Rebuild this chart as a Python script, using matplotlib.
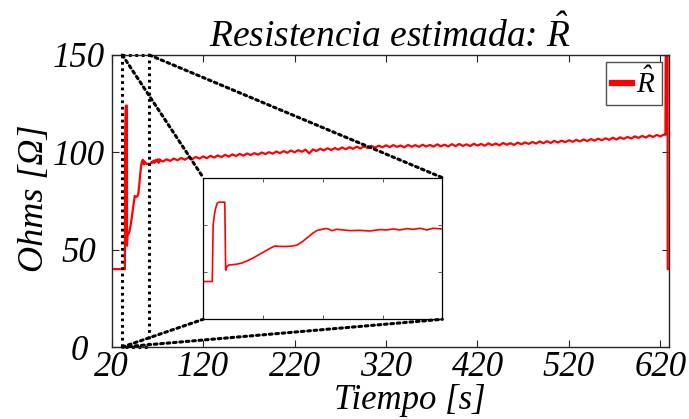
import matplotlib
matplotlib.use("Agg")
import matplotlib.pyplot as plt
from matplotlib.patches import ConnectionPatch
import numpy as np

plt.rcParams['font.family'] = ['Liberation Serif', 'DejaVu Serif']
plt.rcParams['font.style'] = 'italic'
plt.rcParams['mathtext.fontset'] = 'custom'
plt.rcParams['mathtext.it'] = 'Liberation Serif:italic'
plt.rcParams['mathtext.rm'] = 'Liberation Serif'

# arranque: escalon, pico y asentamiento (tiempo irregular)
t_ini = [20, 34.45, 34.6, 34.8, 35.0, 35.3, 35.6, 36.6, 36.75, 37.0, 37.3,
         38.5, 39.5, 40.5, 41.5, 42.5, 43.5, 44.5, 45.2, 46.0, 47.0, 48.0,
         49.0, 50.0, 51.0, 51.8, 52.5, 53.3, 54.0, 54.5, 55.0, 55.8, 57.0,
         58.1, 59.8, 61.5, 63.3, 64.4, 65.6, 66.7, 67.9, 69.0, 70.2, 71.3,
         72.4, 73.9]
r_ini = [40, 40, 100, 110, 117, 123, 124, 124, 52, 56, 57.5,
         58.2, 59.5, 62, 65, 68.5, 72, 75.5, 77.6, 77.2, 77.1, 77.4,
         78.5, 82.5, 87.5, 91.5, 94.2, 95.2, 96.2, 95.5, 93.8, 95.3, 94.6,
         93.9, 94.2, 93.5, 95.0, 94.6, 95.7, 94.6, 96.0, 95.3, 96.4, 94.6,
         96.4, 95.7]

# regimen: muestras cada 4 s desde 76 s hasta 624 s
t_reg = np.arange(76, 625, 4)
r_reg = [95.3, 96.4, 95.6, 96.8, 95.9, 97.1, 96.2, 97.4, 96.5, 97.6,
         96.8, 97.9, 97.0, 98.2, 97.3, 98.4, 97.6, 98.7, 97.8, 98.9,
         98.1, 99.2, 98.3, 99.4, 98.6, 99.6, 98.8, 99.9, 99.1, 100.1,
         99.3, 100.4, 99.6, 100.6, 99.8, 100.9, 100.0, 101.1, 100.3, 101.4,
         99.4, 101.5, 100.7, 101.8, 101.0, 102.1, 101.2, 102.2, 101.4, 102.5,
         101.6, 102.6, 101.8, 102.9, 102.0, 103.1, 102.2, 103.3, 102.4, 103.4,
         102.6, 103.6, 102.7, 103.7, 102.8, 103.5, 102.6, 103.8, 102.9, 103.7,
         102.8, 103.9, 103.0, 103.8, 102.9, 104.1, 103.1, 103.9, 103.0, 104.2,
         103.2, 104.3, 103.3, 104.1, 103.2, 104.4, 103.5, 104.3, 103.4, 104.6,
         103.7, 104.5, 103.6, 104.8, 103.9, 104.7, 103.8, 105.0, 104.1, 105.1,
         104.3, 105.3, 104.5, 105.6, 104.7, 105.7, 104.8, 105.9, 105.0, 106.0,
         105.2, 106.2, 105.4, 106.4, 105.6, 106.6, 105.8, 106.8, 106.0, 107.0,
         106.2, 107.2, 106.4, 107.5, 106.6, 107.7, 106.9, 107.9, 107.1, 108.2,
         107.4, 108.4, 107.6, 108.7, 107.9, 108.9, 108.2, 109.1]

# final: salto fuera de escala y vuelta a 40
t_fin = [625.5, 626.0, 627.8, 628.0, 632.0]
r_fin = [109.0, 175.0, 175.0, 40.0, 40.0]

t = np.concatenate([t_ini, t_reg, t_fin])
r = np.concatenate([r_ini, r_reg, r_fin])

xticks = [20, 120, 220, 320, 420, 520, 620]
yticks = [0, 50, 100, 150]
zoom_t = (31.6, 61.1)      # ventana marcada en la grafica principal
ins_xlim = (32.9, 74.0)    # rango del recuadro

fig = plt.figure(figsize=(6.89, 4.19), dpi=100)
ax = fig.add_axes([0.1621, 0.1718, 0.809, 0.697])
ax.plot(t, r, color='red', lw=1.6, label=r'$\hat{R}$')
ax.set_xlim(20, 629.5)
ax.set_ylim(0, 150)
ax.set_xticks(xticks)
ax.set_yticks(yticks)
ax.tick_params(direction='in', length=5, width=0.8, top=True, right=True,
               labelsize=25, color='#262626')
ax.tick_params(axis='x', pad=3)
ax.tick_params(axis='y', pad=23.5)
for lb in ax.get_yticklabels():
    lb.set_horizontalalignment('center')
for s in ax.spines.values():
    s.set_color('#262626')
    s.set_linewidth(1.0)

ax.set_title(r'Resistencia estimada: $\hat{R}$', fontsize=27, pad=6)
ax.set_xlabel('Tiempo [s]', fontsize=25)
ax.xaxis.set_label_coords(0.535, -0.128)
ax.set_ylabel('Ohms [Ω]', fontsize=26)
ax.yaxis.set_label_coords(-0.108, 0.51)

leg = ax.legend(loc='upper right', fontsize=21, handlelength=0.7,
                handletextpad=0.15, borderpad=0.2, borderaxespad=0.25,
                fancybox=False, framealpha=1, edgecolor='#505050')
leg.get_frame().set_linewidth(1.0)
for h in leg.get_lines():
    h.set_linewidth(4.5)

# recuadro con el detalle del arranque
axins = fig.add_axes([0.295, 0.238, 0.347, 0.338])
axins.plot(t, r, color='red', lw=1.2)
axins.set_xlim(*ins_xlim)
axins.set_ylim(0, 150)
axins.set_xticks(np.linspace(ins_xlim[0], ins_xlim[1], 5))
axins.set_yticks(yticks)
axins.tick_params(direction='in', length=3, width=0.6, top=True, right=True,
                  labelbottom=False, labelleft=False, color='#404040')
for s in axins.spines.values():
    s.set_color('black')
    s.set_linewidth(0.9)

# marco punteado y lineas de union
dot = dict(color='black', lw=2.2, linestyle=(0, (0.9, 1.2)))
x0, x1 = zoom_t
ax.plot([x0, x1, x1, x0, x0], [150, 150, 0, 0, 150], clip_on=False, **dot)
pares = [((x0, 150), (0, 1)), ((x1, 150), (1, 1)),
         ((x0, 0), (0, 0)), ((x0, 0), (1, 0))]
for pa, pb in pares:
    cp = ConnectionPatch(xyA=pa, coordsA=ax.transData, xyB=pb,
                         coordsB=axins.transAxes, **dot)
    fig.add_artist(cp)

fig.savefig('out.png', dpi=100)
